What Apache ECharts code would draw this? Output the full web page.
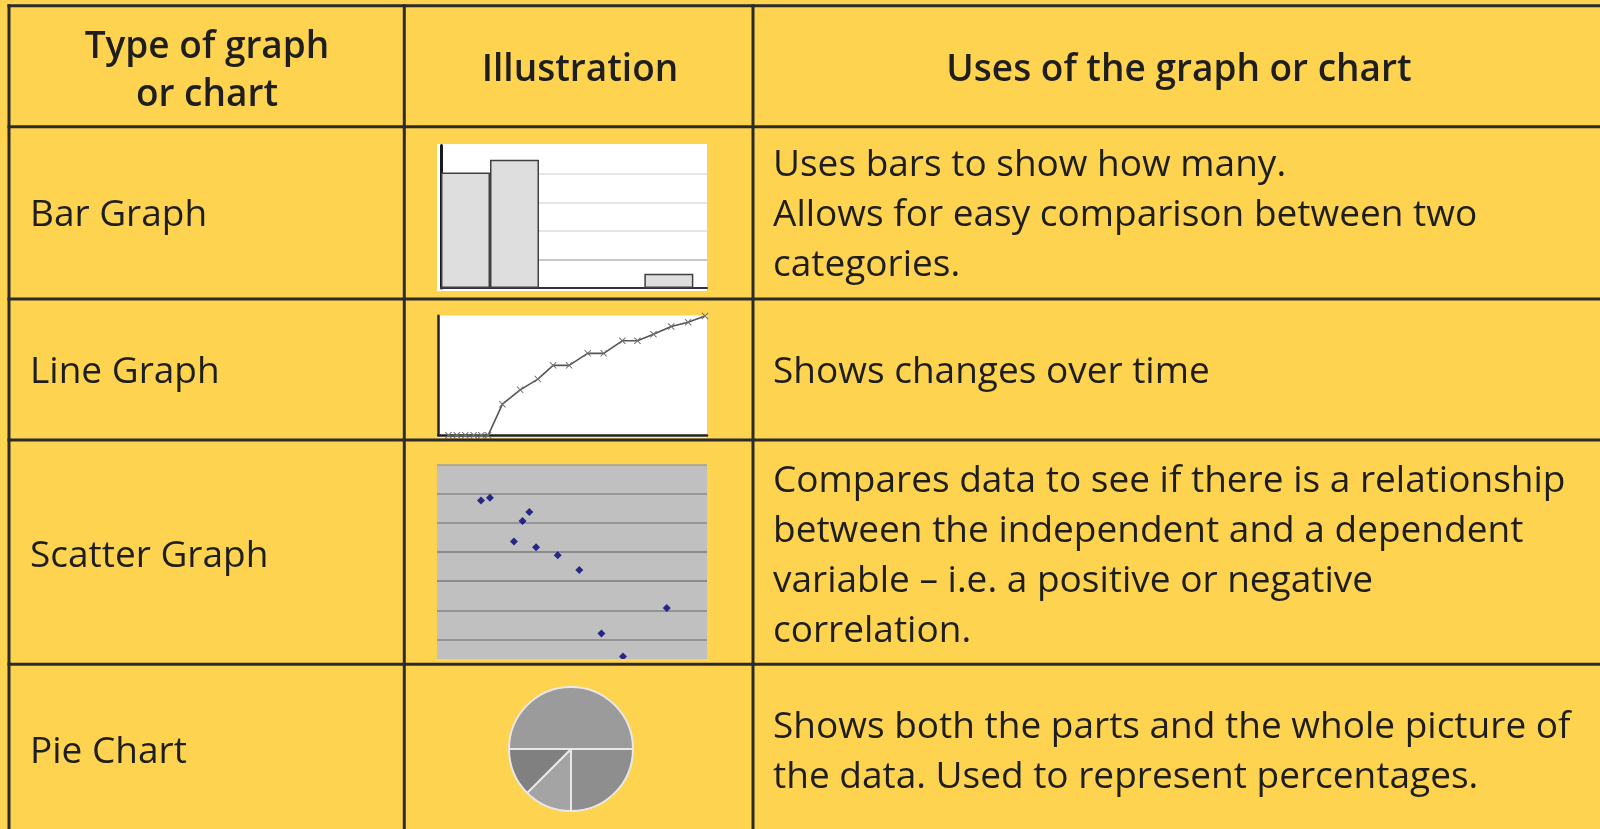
<!DOCTYPE html>
<html>
<head>
<meta charset="utf-8">
<script src="https://cdn.jsdelivr.net/npm/echarts@6/dist/echarts.min.js"></script>
<style>
html,body{margin:0;padding:0;background:#fed350;}
#chart{width:1600px;height:829px;}
</style>
</head>
<body>
<div id="chart"></div>
<script>
// ---- Table text ----
const headers = ['Type of graph\nor chart', 'Illustration', 'Uses of the graph or chart'];
const graphTypes = ['Bar Graph', 'Line Graph', 'Scatter Graph', 'Pie Chart'];
const uses = [
  ['Uses bars to show how many.', 'Allows for easy comparison between two', 'categories.'],
  ['Shows changes over time'],
  ['Compares data to see if there is a relationship', 'between the independent and a dependent', 'variable \u2013 i.e. a positive or negative', 'correlation.'],
  ['Shows both the parts and the whole picture of', 'the data. Used to represent percentages.']
];

// ---- Bar graph illustration ----
const barX = [0.5, 1.5, 4.65];
const barY = [4.05, 4.5, 0.5];

// ---- Line graph illustration ----
const lineX = [0.6, 1.1, 1.6, 2.1, 2.55, 2.95, 3.8, 4.85, 5.9, 6.8, 7.75, 8.85, 9.8, 10.9, 11.8, 12.75, 13.8, 14.8, 15.8];
const lineY = [0, 0, 0, 0, 0, 0, 26, 38, 47, 58.5, 58.5, 68.5, 68.5, 79, 79, 84.5, 91, 94.5, 99.8];

// ---- Scatter graph illustration ----
const scatterX = [1.63, 1.96, 3.42, 3.17, 2.85, 3.67, 4.47, 5.27, 8.51, 6.09, 6.89];
const scatterY = [5.78, 5.87, 5.38, 5.07, 4.37, 4.17, 3.89, 3.39, 2.08, 1.20, 0.41];

// ---- Pie chart illustration ----
const pieValues = [50, 25, 12.5, 12.5];
const pieColors = ['#9b9b9b', '#8e8e8e', '#a4a4a4', '#808080'];

const YELLOW = '#fed350';
const LINE = '#2b2b2b';
const TEXT = '#1e1e1e';
const FONT = '"Open Sans", "Noto Sans", sans-serif';
const FS = 37;

const chart = echarts.init(document.getElementById('chart'), null, {renderer: 'canvas'});

const g = [];
// illustration backgrounds
g.push({type: 'rect', z: -1, shape: {x: 437, y: 144, width: 270, height: 147}, style: {fill: '#ffffff'}});
g.push({type: 'rect', z: -1, shape: {x: 437.5, y: 315.5, width: 269.5, height: 122}, style: {fill: '#ffffff'}});
// cover for scatter overflow below its visible box
g.push({type: 'rect', z: 50, shape: {x: 432, y: 659, width: 280, height: 12}, style: {fill: YELLOW}});

// table lines
const hLines = [5.7, 126.7, 299, 440, 664.3];
const vLines = [9, 404.3, 753];
hLines.forEach(y => g.push({type: 'line', z: 60, shape: {x1: 7.5, y1: y, x2: 1600, y2: y}, style: {stroke: LINE, lineWidth: 3}}));
vLines.forEach(x => g.push({type: 'line', z: 60, shape: {x1: x, y1: 4.2, x2: x, y2: 829}, style: {stroke: LINE, lineWidth: 3}}));

function txt(text, x, y, opts) {
  opts = opts || {};
  g.push({
    type: 'text', z: 70, x: x, y: y,
    style: {
      text: text,
      fill: TEXT,
      font: (opts.weight || 'normal') + ' ' + (opts.size || FS) + 'px ' + FONT,
      textAlign: opts.align || 'left', align: opts.align || 'left',
      textVerticalAlign: 'middle', verticalAlign: 'middle',
      lineHeight: opts.lh || 50
    }
  });
}
// headers
txt(headers[0], 207, 71, {align: 'center', weight: '600', lh: 48});
txt(headers[1], 580, 70, {align: 'center', weight: '600'});
txt(headers[2], 1179, 70, {align: 'center', weight: '600'});
// rows
const rowCenters = [215.5, 372.5, 556, 752];
graphTypes.forEach((t, i) => txt(t, 30, rowCenters[i]));
uses.forEach((lines, i) => txt(lines.join('\n'), 773, rowCenters[i]));

const option = {
  backgroundColor: YELLOW,
  animation: false,
  grid: [
    {left: 441, top: 145.5, width: 266, height: 142.5},
    {left: 438.3, top: 315.7, width: 268.7, height: 119.6},
    {left: 437, top: 465, width: 270, height: 203.4, show: true, backgroundColor: '#c0c0c0', borderWidth: 0}
  ],
  xAxis: [
    {type: 'value', gridIndex: 0, min: 0, max: 266 / 49,
     axisLine: {show: true, onZero: false, lineStyle: {color: '#333', width: 2}},
     axisTick: {show: false}, axisLabel: {show: false}, splitLine: {show: false}},
    {type: 'value', gridIndex: 1, min: 0, max: 15.92,
     axisLine: {show: true, onZero: false, lineStyle: {color: '#222', width: 2.5}},
     axisTick: {show: false}, axisLabel: {show: false}, splitLine: {show: false}},
    {type: 'value', gridIndex: 2, min: 0, max: 10, show: false}
  ],
  yAxis: [
    {type: 'value', gridIndex: 0, min: 0, max: 5, interval: 1,
     axisLine: {show: true, onZero: false, lineStyle: {color: '#1a1a1a', width: 3}},
     axisTick: {show: false}, axisLabel: {show: false},
     splitLine: {show: true, lineStyle: {color: ['#999999', '#b4b4b4', '#dcdcdc', '#dcdcdc', '#dcdcdc', '#ffffff'], width: 1.5}}},
    {type: 'value', gridIndex: 1, min: 0, max: 100,
     axisLine: {show: true, onZero: false, lineStyle: {color: '#222', width: 2.5}},
     axisTick: {show: false}, axisLabel: {show: false}, splitLine: {show: false}},
    {type: 'value', gridIndex: 2, min: 0, max: 7, interval: 1,
     axisLine: {show: false}, axisTick: {show: false}, axisLabel: {show: false},
     splitLine: {show: true, lineStyle: {color: ['#808080', '#858585', '#858585', '#7a7a7a', '#7a7a7a', '#8a8a8a', '#8a8a8a', '#9c9c9c'], width: 1.5}}}
  ],
  series: [
    {
      type: 'bar', xAxisIndex: 0, yAxisIndex: 0,
      data: barX.map((x, i) => [x, barY[i]]),
      barWidth: 49,
      itemStyle: {color: '#dedede', borderColor: '#404040', borderWidth: 1.5},
      emphasis: {disabled: true}, silent: true
    },
    {
      type: 'line', xAxisIndex: 1, yAxisIndex: 1,
      data: lineX.map((x, i) => [x, lineY[i]]),
      symbol: 'path://M0,1L1,0L5,4L9,0L10,1L6,5L10,9L9,10L5,6L1,10L0,9L4,5Z',
      symbolSize: 7, showAllSymbol: true,
      lineStyle: {color: '#555555', width: 1.6},
      itemStyle: {color: '#707070'},
      emphasis: {disabled: true}, silent: true, z: 3
    },
    {
      type: 'scatter', xAxisIndex: 2, yAxisIndex: 2,
      data: scatterX.map((x, i) => [x, scatterY[i]]),
      symbol: 'diamond', symbolSize: 8,
      itemStyle: {color: '#00007a'},
      emphasis: {disabled: true}, silent: true
    },
    {
      type: 'pie', center: [571, 749], radius: 62,
      startAngle: 180, clockwise: true,
      label: {show: false}, labelLine: {show: false},
      data: pieValues.map((v, i) => ({value: v, itemStyle: {color: pieColors[i]}})),
      itemStyle: {borderColor: '#e8e8e8', borderWidth: 2},
      emphasis: {disabled: true}, silent: true
    }
  ],
  graphic: {elements: g}
};
chart.setOption(option);
</script>
</body>
</html>
